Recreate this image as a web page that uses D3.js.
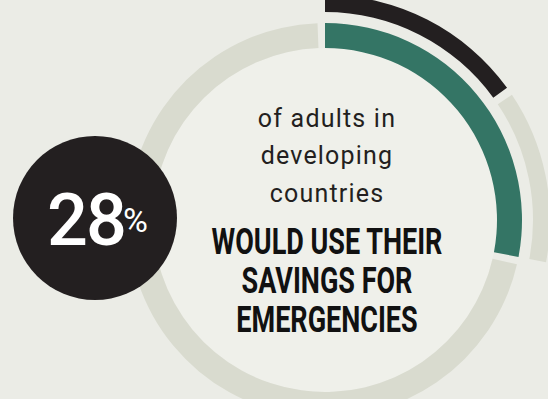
<!DOCTYPE html>
<html>
<head>
<meta charset="utf-8">
<script src="https://d3js.org/d3.v7.min.js"></script>
<style>
  html, body { margin: 0; padding: 0; background: #ebece6; }
  svg { display: block; }
</style>
</head>
<body>
<div id="chart"></div>
<script>
// share of adults (developing countries), percent
const innerSegments = ['savings for emergencies', 'other'];
const innerValues = [28, 72];
const outerSegments = ['highlight', 'rest'];
const outerValues = [15, 13];
const headline = '28';
const introLines = ['of adults in', 'developing', 'countries'];
const boldLines = ['WOULD USE THEIR', 'SAVINGS FOR', 'EMERGENCIES'];

const width = 548, height = 399;
const cx = 325, cy = 220;
const gap = 0.038;

const svg = d3.select('#chart')
  .append('svg')
  .attr('width', width)
  .attr('height', height);

svg.append('rect')
  .attr('width', width)
  .attr('height', height)
  .attr('fill', '#ebece6');

const angle = d3.scaleLinear().domain([0, 100]).range([0, 2 * Math.PI]);

const ring = svg.append('g').attr('transform', `translate(${cx},${cy})`);

// inner disk, a touch lighter than the page
ring.append('circle')
  .attr('r', 172)
  .attr('fill', '#eff0ea');

// inner ring
const innerArc = d3.arc().innerRadius(172).outerRadius(197);
const innerData = [
  { key: innerSegments[0], start: angle(0), end: angle(innerValues[0]), color: '#347565' },
  { key: innerSegments[1], start: angle(innerValues[0]) + gap, end: angle(innerValues[0] + innerValues[1]) - gap, color: '#d9dbcf' }
];
ring.selectAll('.inner')
  .data(innerData)
  .enter()
  .append('path')
  .attr('class', 'inner')
  .attr('d', d => innerArc({ startAngle: d.start, endAngle: d.end }))
  .attr('fill', d => d.color);

// outer ring
const outerArc = d3.arc().innerRadius(208).outerRadius(225);
const outerData = [
  { key: outerSegments[0], start: angle(0), end: angle(outerValues[0]), color: '#231f20' },
  { key: outerSegments[1], start: angle(outerValues[0]) + gap, end: angle(outerValues[0] + outerValues[1]), color: '#d9dbcf' }
];
ring.selectAll('.outer')
  .data(outerData)
  .enter()
  .append('path')
  .attr('class', 'outer')
  .attr('d', d => outerArc({ startAngle: d.start, endAngle: d.end }))
  .attr('fill', d => d.color);

// big number badge
const badge = svg.append('g').attr('transform', 'translate(95,218)');
badge.append('circle')
  .attr('r', 82)
  .attr('fill', '#231f20');
badge.append('text')
  .attr('x', -48)
  .attr('y', 27)
  .attr('fill', '#fff')
  .style('font-family', 'Roboto, sans-serif')
  .style('font-weight', 500)
  .style('font-size', '72px')
  .style('letter-spacing', '-2px')
  .text(headline);
badge.append('text')
  .attr('x', 28)
  .attr('y', 14)
  .attr('fill', '#fff')
  .style('font-family', 'Roboto, sans-serif')
  .style('font-size', '34px')
  .text('%');

// copy
const copy = svg.append('g').attr('text-anchor', 'middle');
copy.selectAll('.intro')
  .data(introLines)
  .enter()
  .append('text')
  .attr('class', 'intro')
  .attr('x', 327)
  .attr('y', (d, i) => 126.7 + i * 37.5)
  .attr('fill', '#231f20')
  .style('font-family', 'Roboto, sans-serif')
  .style('font-weight', 400)
  .style('font-size', '25px')
  .style('letter-spacing', '1.2px')
  .text(d => d);

// condensed caps: squeeze Roboto Bold horizontally
const bold = copy.selectAll('.bold')
  .data(boldLines)
  .enter()
  .append('text')
  .attr('class', 'bold')
  .attr('x', 327)
  .attr('y', (d, i) => 254 + i * 38.8)
  .attr('fill', '#111')
  .style('font-family', 'Roboto, sans-serif')
  .style('font-weight', 700)
  .style('font-size', '37px')
  .text(d => d);

bold.each(function() {
  const natural = this.getComputedTextLength();
  d3.select(this)
    .attr('textLength', natural * 0.73)
    .attr('lengthAdjust', 'spacingAndGlyphs');
});
</script>
</body>
</html>
